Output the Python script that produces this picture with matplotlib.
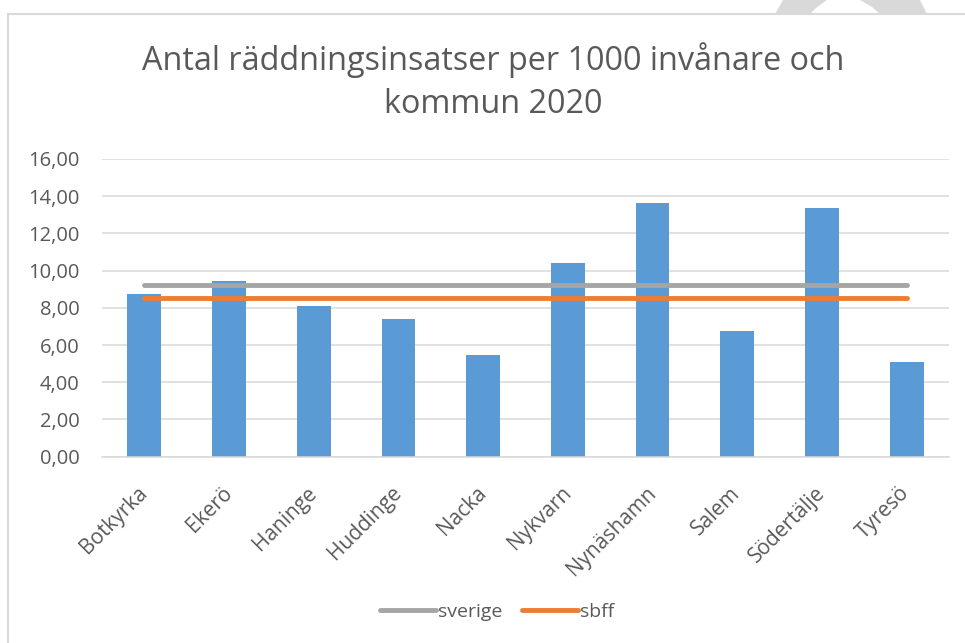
import matplotlib
matplotlib.use("Agg")
import matplotlib.pyplot as plt
from matplotlib.patches import Rectangle, Polygon
from matplotlib.lines import Line2D

categories = ["Botkyrka", "Ekerö", "Haninge", "Huddinge", "Nacka",
              "Nykvarn", "Nynäshamn", "Salem", "Södertälje", "Tyresö"]
values = [8.73, 9.44, 8.08, 7.40, 5.47, 10.43, 13.62, 6.76, 13.35, 5.09]
sverige = [9.23] * len(categories)
sbff = [8.55] * len(categories)
yticks = [0, 2, 4, 6, 8, 10, 12, 14, 16]
title = "Antal räddningsinsatser per 1000 invånare och\nkommun 2020"

plt.rcParams['font.family'] = ['Open Sans', 'DejaVu Sans']
W, H = 965, 643
fig = plt.figure(figsize=(W / 100, H / 100), dpi=100)
fig.patch.set_facecolor("white")

# chart border (clipped at right/bottom)
fig.patches.append(Rectangle((8 / W, -0.1), 1.2, 1 - 14 / H + 0.1,
                             transform=fig.transFigure, fill=False,
                             edgecolor="#D9D9D9", lw=1.5))
# watermark fragment
def px(pts):
    return [(x / W, 1 - y / H) for x, y in pts]
fig.patches.append(Polygon(px([(775, 14), (783, 0), (827, 0), (816, 8), (810, 14)]),
                           closed=True, transform=fig.transFigure,
                           facecolor="#D9D9D9", edgecolor="none"))
fig.patches.append(Polygon(px([(880, 14), (872, 7), (860, 0), (920, 0), (927, 14)]),
                           closed=True, transform=fig.transFigure,
                           facecolor="#D9D9D9", edgecolor="none"))

ax = fig.add_axes([102 / W, 1 - 456.7 / H, (949 - 102) / W, (456.7 - 159) / H])
x = list(range(len(categories)))
ax.bar(x, values, width=0.4, color="#5B9BD5", zorder=2)
ax.plot(x, sverige, color="#A5A5A5", lw=3.5, solid_capstyle="round", zorder=3, label="sverige")
ax.plot(x, sbff, color="#ED7D31", lw=3.5, solid_capstyle="round", zorder=3, label="sbff")

ax.set_xlim(-0.5, len(categories) - 0.5)
ax.set_ylim(0, 16)
ax.set_yticks(yticks)
ax.set_yticklabels([f"{v:.2f}".replace(".", ",") for v in yticks])
ax.yaxis.grid(True, color="#D9D9D9", lw=1.1, zorder=0)
ax.set_axisbelow(True)
for s in ["top", "right", "left"]:
    ax.spines[s].set_visible(False)
ax.spines["bottom"].set_color("#D9D9D9")
ax.spines["bottom"].set_linewidth(1.1)
ax.tick_params(axis="y", length=0, pad=16, labelsize=14.5, labelcolor="#595959")
ax.tick_params(axis="x", length=0, pad=24, labelsize=15, labelcolor="#595959")
ax.set_xticks(x)
ax.set_xticklabels(categories, rotation=45, ha="right", va="center", rotation_mode="anchor")

fig.text(493 / W, 1 - 81.5 / H, title, ha="center", va="center",
         fontsize=23.3, color="#595959", linespacing=1.42)

handles = [Line2D([], [], color="#A5A5A5", lw=3.5, solid_capstyle="round"),
           Line2D([], [], color="#ED7D31", lw=3.5, solid_capstyle="round")]
fig.legend(handles, ["sverige", "sbff"], loc="center", bbox_to_anchor=(497 / W, 1 - 612 / H),
           ncol=2, frameon=False, fontsize=14, labelcolor="#595959",
           handlelength=2.9, handletextpad=0.1, columnspacing=1.0)

fig.savefig("out.png", dpi=100, facecolor="white")
